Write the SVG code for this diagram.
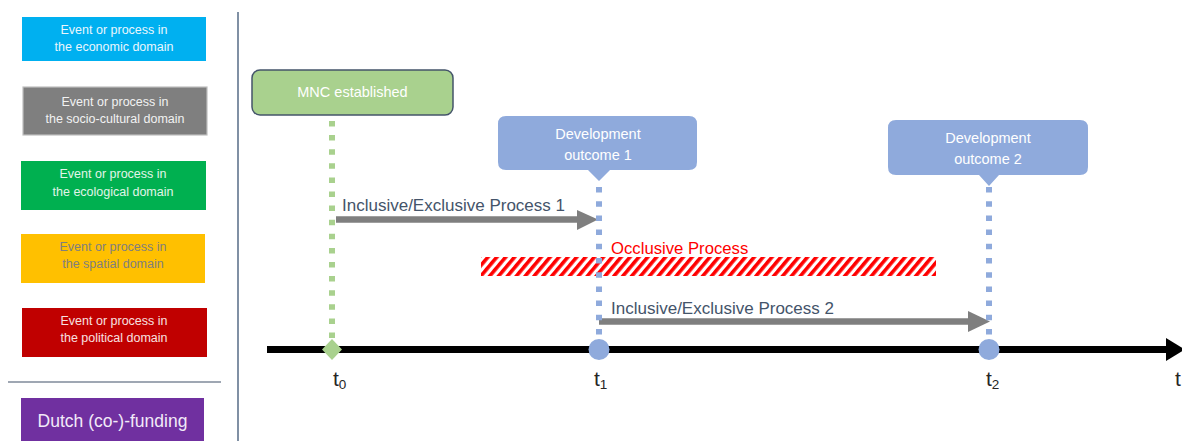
<svg xmlns="http://www.w3.org/2000/svg" width="1182" height="441" viewBox="0 0 1182 441">
<style>
text{font-family:"Liberation Sans",Arial,sans-serif}
.leg{font-size:12.5px;text-anchor:middle}
.lbl{font-size:14.5px;fill:#FFFFFF;text-anchor:middle}
.proc{font-size:17px;fill:#44546A}
.tl{font-size:21px;fill:#262626}
.sub{font-size:13.5px}
.dotg{stroke:#A9D18E;stroke-width:6;stroke-dasharray:5.5 8.6;fill:none}
.dotb{stroke:#8FAADC;stroke-width:6;stroke-dasharray:5.5 8.7;fill:none}
.shaft{stroke:#7F7F7F;stroke-width:6.5;fill:none}
</style>
<defs>
<pattern id="hatch" patternUnits="userSpaceOnUse" width="6.8" height="10" patternTransform="rotate(40)">
<rect x="0" y="0" width="3.6" height="10" fill="#FF0000"/>
</pattern>
</defs>
<rect width="1182" height="441" fill="#FFFFFF"/>

<g id="legend">
<g id="leg-economic"><rect x="22" y="17" width="184" height="44" fill="#00B0F0"/><text class="leg" x="114" y="34" fill="#EAF6FD">Event or process in</text><text class="leg" x="114" y="51" fill="#EAF6FD">the economic domain</text></g>
<g id="leg-socio"><rect x="23" y="87" width="184" height="48" fill="#7F7F7F" stroke="#BFBFBF" stroke-width="1.2"/><text class="leg" x="115" y="106" fill="#F2F2F2">Event or process in</text><text class="leg" x="115" y="123" fill="#F2F2F2">the socio-cultural domain</text></g>
<g id="leg-ecological"><rect x="21" y="161" width="185" height="49" fill="#00B050"/><text class="leg" x="113" y="178" fill="#E2F5E9">Event or process in</text><text class="leg" x="113" y="196" fill="#E2F5E9">the ecological domain</text></g>
<g id="leg-spatial"><rect x="21" y="234" width="184" height="49" fill="#FFC000"/><text class="leg" x="113" y="251" fill="#7F7F7F">Event or process in</text><text class="leg" x="113" y="268" fill="#7F7F7F">the spatial domain</text></g>
<g id="leg-political"><rect x="22" y="308" width="185" height="49" fill="#C00000"/><text class="leg" x="114" y="325" fill="#F8E0E0">Event or process in</text><text class="leg" x="114" y="342" fill="#F8E0E0">the political domain</text></g>
<line x1="8" y1="382" x2="221" y2="382" stroke="#7F8A9A" stroke-width="1.5"/>
<g id="leg-dutch"><rect x="21" y="398" width="183" height="43" fill="#7030A0"/><text x="112.5" y="427" fill="#F2EAF8" font-size="17.5" text-anchor="middle">Dutch (co-)-funding</text></g>
</g>
<line x1="238" y1="12" x2="238" y2="441" stroke="#8090A4" stroke-width="2"/>

<g id="occlusive">
<rect x="481" y="257" width="455" height="19" fill="url(#hatch)"/>
<text x="611" y="254" font-size="16.7" fill="#FF0000">Occlusive Process</text>
</g>

<g id="connectors">
<line class="dotg" x1="332" y1="121" x2="332" y2="338"/>
<line class="shaft" x1="336" y1="219.5" x2="580" y2="219.5"/>
<polygon points="577,210 598,219.5 577,230" fill="#7F7F7F"/>
<line class="shaft" x1="599" y1="321.5" x2="970" y2="321.5"/>
<polygon points="968,311 990,321.5 968,332" fill="#7F7F7F"/>
<line class="dotb" x1="599" y1="187" x2="599" y2="336"/>
<line class="dotb" x1="989" y1="187" x2="989" y2="336"/>
<line x1="267" y1="349.5" x2="1170" y2="349.5" stroke="#000000" stroke-width="7"/>
<polygon points="1166,338 1185,349.5 1166,361" fill="#000000"/>
</g>

<text class="proc" x="342" y="211">Inclusive/Exclusive Process 1</text>
<text class="proc" x="611" y="314">Inclusive/Exclusive Process 2</text>

<g id="mnc">
<rect x="252" y="70" width="201" height="45" rx="8" fill="#A9D18E" stroke="#44546A" stroke-width="1.5"/>
<text class="lbl" x="352.5" y="97">MNC established</text>
</g>
<g id="outcome1">
<path d="M506,116 H689 Q697,116 697,124 V162 Q697,170 689,170 H610 L599,181 L588,170 H506 Q498,170 498,162 V124 Q498,116 506,116 Z" fill="#8FAADC"/>
<text class="lbl" x="598" y="139">Development</text>
<text class="lbl" x="598" y="160">outcome 1</text>
</g>
<g id="outcome2">
<path d="M896,120 H1080 Q1088,120 1088,128 V167 Q1088,175 1080,175 H999 L989,186 L979,175 H896 Q888,175 888,167 V128 Q888,120 896,120 Z" fill="#8FAADC"/>
<text class="lbl" x="988" y="143">Development</text>
<text class="lbl" x="988" y="164">outcome 2</text>
</g>

<g id="t0"><polygon points="332,339 342,349.5 332,360 322,349.5" fill="#A9D18E"/><text class="tl" x="333" y="386">t<tspan class="sub" dy="3">0</tspan></text></g>
<g id="t1"><circle cx="599" cy="349.5" r="10.5" fill="#8FAADC"/><text class="tl" x="594" y="386">t<tspan class="sub" dy="3">1</tspan></text></g>
<g id="t2"><circle cx="989" cy="349.5" r="10.5" fill="#8FAADC"/><text class="tl" x="986" y="386">t<tspan class="sub" dy="3">2</tspan></text></g>
<g id="t-axis"><text class="tl" x="1175" y="386">t</text></g>
</svg>
